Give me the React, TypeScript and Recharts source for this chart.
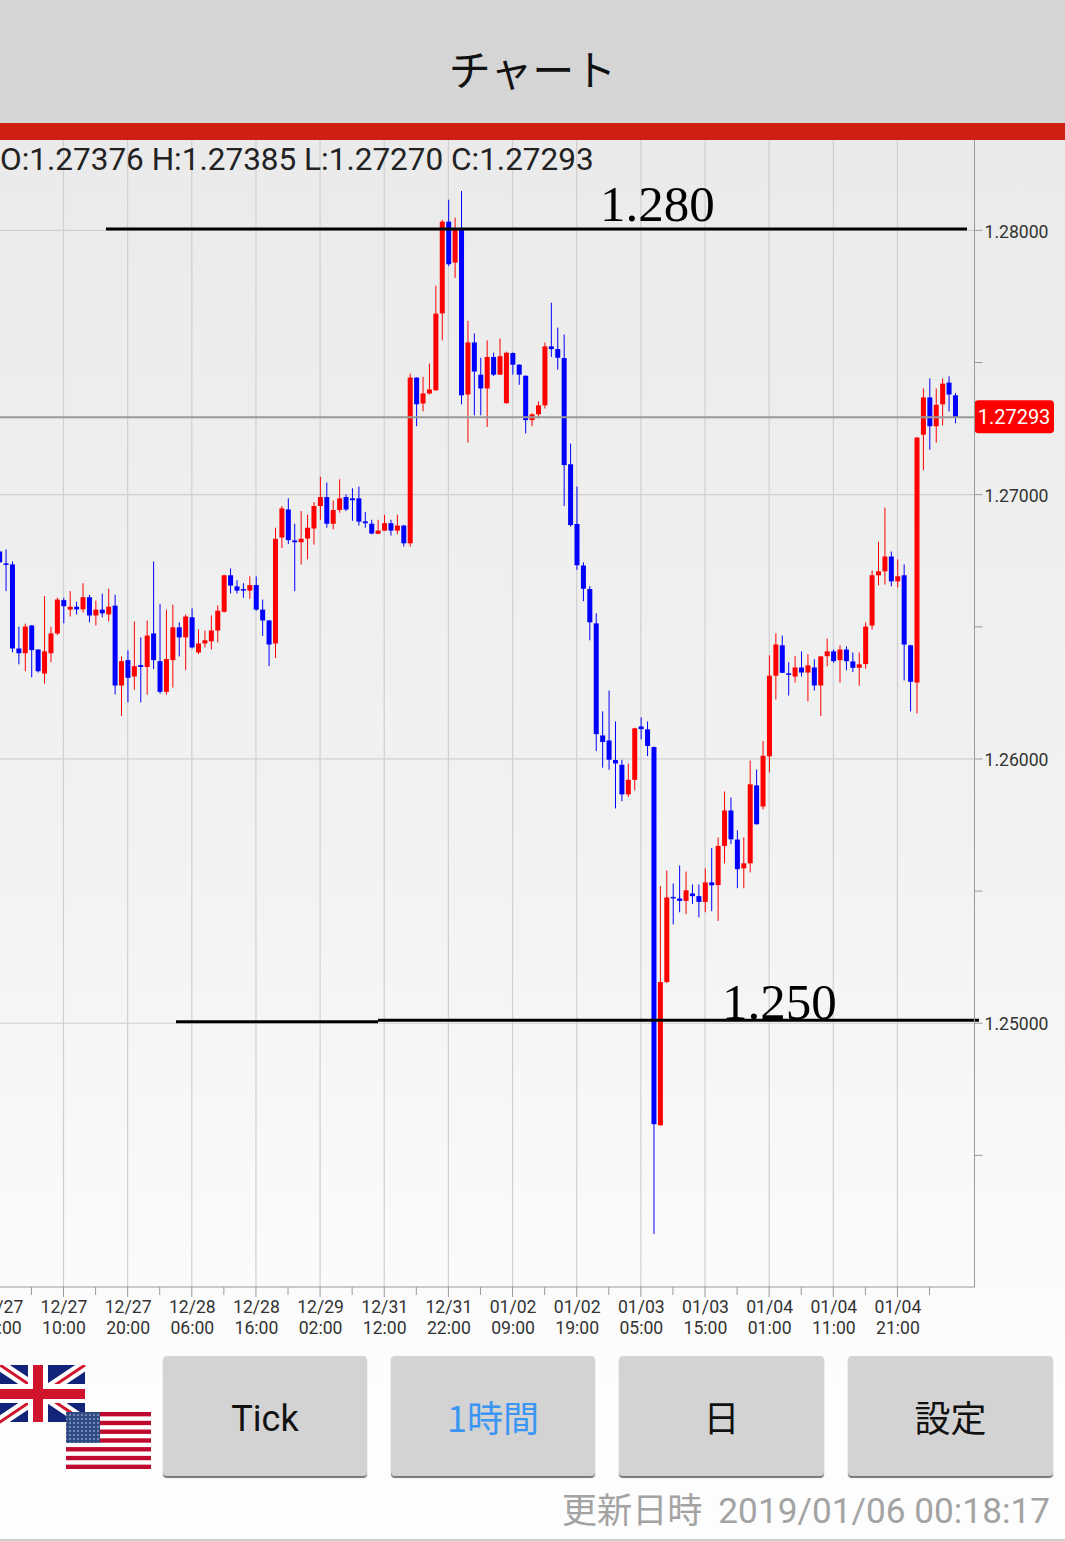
import { Bar, CartesianGrid, ComposedChart, Label, ReferenceLine, XAxis, YAxis } from 'recharts';

const opens = [
  1.26785, 1.2674, 1.26736, 1.26418, 1.264, 1.26505, 1.26414, 1.26323, 1.264, 1.26475,
  1.26601, 1.26565, 1.26576, 1.26566, 1.26612, 1.26543, 1.26565, 1.26547, 1.2658, 1.26278,
  1.26374, 1.26312, 1.26355, 1.26348, 1.26475, 1.2637, 1.26254, 1.26374, 1.26498, 1.2646,
  1.26536, 1.26403, 1.26437, 1.26445, 1.26486, 1.26557, 1.26695, 1.26653, 1.26643, 1.26637,
  1.26658, 1.26565, 1.26524, 1.26437, 1.26838, 1.26944, 1.26827, 1.2682, 1.26834, 1.26872,
  1.26957, 1.26991, 1.2689, 1.26942, 1.26991, 1.26986, 1.26986, 1.26899, 1.2689, 1.26852,
  1.26864, 1.26892, 1.26864, 1.26883, 1.26816, 1.27443, 1.27345, 1.27383, 1.27395, 1.27686,
  1.28033, 1.27878, 1.28001, 1.27379, 1.27576, 1.27454, 1.27402, 1.27521, 1.27454, 1.27346,
  1.27536, 1.27492, 1.2745, 1.27282, 1.27304, 1.27338, 1.27561, 1.27551, 1.27517, 1.27115,
  1.26889, 1.26732, 1.26643, 1.26513, 1.26089, 1.2607, 1.25996, 1.25978, 1.25866, 1.25921,
  1.26123, 1.26112, 1.26045, 1.24614, 1.25156, 1.25478, 1.25472, 1.25463, 1.25491, 1.25481,
  1.25459, 1.25533, 1.25523, 1.25671, 1.25805, 1.25695, 1.25586, 1.25605, 1.259, 1.2582,
  1.2601, 1.26315, 1.2643, 1.26324, 1.26312, 1.26346, 1.26327, 1.26346, 1.26278, 1.26389,
  1.26407, 1.26374, 1.26414, 1.26369, 1.26345, 1.26359, 1.26505, 1.26695, 1.2671, 1.26766,
  1.26672, 1.26695, 1.2643, 1.26289, 1.27227, 1.27368, 1.27259, 1.27342, 1.27424, 1.27376,
];
const closes = [
  1.26744, 1.26738, 1.26418, 1.264, 1.26501, 1.26412, 1.26332, 1.26407, 1.26475, 1.26603,
  1.26578, 1.26576, 1.26566, 1.26612, 1.26543, 1.26565, 1.26551, 1.26576, 1.26278, 1.2637,
  1.26307, 1.26351, 1.26348, 1.26467, 1.26374, 1.26254, 1.26378, 1.26498, 1.2646, 1.26539,
  1.26422, 1.26437, 1.26449, 1.26486, 1.26561, 1.26695, 1.26656, 1.26637, 1.26637, 1.26658,
  1.26565, 1.26524, 1.26433, 1.26833, 1.26948, 1.26828, 1.2682, 1.26833, 1.26875, 1.26957,
  1.26991, 1.2689, 1.26942, 1.26986, 1.26944, 1.26979, 1.26898, 1.26892, 1.26853, 1.26864,
  1.26892, 1.26864, 1.26883, 1.26816, 1.27443, 1.27342, 1.27383, 1.27398, 1.27685, 1.28033,
  1.27872, 1.28001, 1.27376, 1.27576, 1.27466, 1.27402, 1.27521, 1.27454, 1.27524, 1.27537,
  1.27492, 1.27454, 1.27282, 1.27304, 1.27338, 1.27561, 1.27551, 1.27518, 1.27112, 1.26885,
  1.26733, 1.26644, 1.26517, 1.26094, 1.26064, 1.25997, 1.25983, 1.25866, 1.25921, 1.26116,
  1.26113, 1.26049, 1.24618, 1.25156, 1.25476, 1.25473, 1.25463, 1.25503, 1.25481, 1.25459,
  1.25533, 1.25522, 1.25671, 1.25805, 1.25696, 1.25583, 1.25605, 1.25904, 1.25753, 1.26012,
  1.26315, 1.26433, 1.26326, 1.26319, 1.26346, 1.26327, 1.26354, 1.26278, 1.26388, 1.26407,
  1.2637, 1.26414, 1.2637, 1.26345, 1.26358, 1.26501, 1.26695, 1.2671, 1.26766, 1.26672,
  1.26691, 1.26433, 1.26292, 1.27216, 1.27368, 1.27259, 1.2734, 1.2742, 1.27379, 1.27293,
];
const highs = [
  1.26789, 1.26793, 1.26747, 1.26501, 1.26512, 1.26507, 1.26416, 1.26616, 1.265, 1.2661,
  1.2661, 1.26635, 1.26595, 1.26665, 1.26621, 1.26599, 1.26625, 1.26644, 1.26621, 1.26388,
  1.26411, 1.2652, 1.2646, 1.26524, 1.26747, 1.26587, 1.26565, 1.26584, 1.26517, 1.26547,
  1.2657, 1.2649, 1.26486, 1.26543, 1.26581, 1.26697, 1.26721, 1.26676, 1.26665, 1.26691,
  1.26691, 1.26603, 1.26526, 1.26875, 1.26957, 1.26986, 1.2689, 1.26938, 1.26924, 1.26972,
  1.27068, 1.27046, 1.26978, 1.27058, 1.27001, 1.27024, 1.27031, 1.26934, 1.26905, 1.26905,
  1.26924, 1.26905, 1.26924, 1.26886, 1.27458, 1.27444, 1.27446, 1.27496, 1.27791, 1.2804,
  1.28116, 1.28048, 1.28149, 1.27658, 1.2761, 1.27518, 1.27584, 1.27537, 1.27591, 1.27541,
  1.27538, 1.27493, 1.27451, 1.27308, 1.27353, 1.27576, 1.27726, 1.27632, 1.27606, 1.27193,
  1.27031, 1.26744, 1.26654, 1.26551, 1.2618, 1.26259, 1.26142, 1.25997, 1.25982, 1.26118,
  1.26157, 1.26142, 1.26047, 1.25519, 1.25578, 1.25529, 1.25597, 1.25574, 1.25525, 1.25525,
  1.25586, 1.25663, 1.25703, 1.25877, 1.25854, 1.2573, 1.25703, 1.25994, 1.2596, 1.26068,
  1.26392, 1.26475, 1.26467, 1.26366, 1.26389, 1.26407, 1.26396, 1.26377, 1.2639, 1.26456,
  1.26414, 1.2643, 1.26426, 1.26403, 1.26403, 1.26517, 1.26713, 1.26822, 1.26951, 1.26785,
  1.26755, 1.26736, 1.26432, 1.27218, 1.27402, 1.2744, 1.27402, 1.2744, 1.27448, 1.27385,
];
const lows = [
  1.2674, 1.26635, 1.26404, 1.26358, 1.26332, 1.26309, 1.26327, 1.26285, 1.26366, 1.26469,
  1.26513, 1.26539, 1.26546, 1.26554, 1.26517, 1.26505, 1.26536, 1.2652, 1.26244, 1.26162,
  1.26214, 1.26262, 1.26214, 1.26243, 1.2634, 1.26247, 1.26243, 1.2627, 1.26388, 1.26336,
  1.26418, 1.26397, 1.26422, 1.26414, 1.26441, 1.26554, 1.26626, 1.26626, 1.2661, 1.26606,
  1.26561, 1.26465, 1.26351, 1.26382, 1.26798, 1.26813, 1.26635, 1.26736, 1.26755, 1.26811,
  1.26905, 1.26875, 1.26869, 1.26932, 1.26938, 1.26901, 1.26883, 1.26875, 1.2685, 1.26851,
  1.26863, 1.26845, 1.2685, 1.26804, 1.26804, 1.27259, 1.27315, 1.27379, 1.27393, 1.27584,
  1.27865, 1.2782, 1.27342, 1.27197, 1.273, 1.273, 1.27256, 1.27449, 1.27453, 1.27345,
  1.27454, 1.27416, 1.27232, 1.27259, 1.27289, 1.27326, 1.27521, 1.27473, 1.26957, 1.26879,
  1.26715, 1.26597, 1.26449, 1.2603, 1.25967, 1.25959, 1.25813, 1.2584, 1.25856, 1.25881,
  1.26074, 1.26011, 1.24203, 1.24613, 1.25152, 1.25374, 1.2542, 1.25413, 1.25451, 1.25401,
  1.2542, 1.25424, 1.25387, 1.25605, 1.25678, 1.25511, 1.25511, 1.25571, 1.25752, 1.25809,
  1.25949, 1.26225, 1.26325, 1.2624, 1.26289, 1.26312, 1.26218, 1.26259, 1.26162, 1.26351,
  1.26364, 1.26289, 1.26336, 1.26329, 1.26277, 1.26341, 1.2649, 1.26657, 1.2666, 1.26653,
  1.26649, 1.26297, 1.2618, 1.26172, 1.27092, 1.2717, 1.27197, 1.27262, 1.27315, 1.2727,
];

const majorPrices = [1.25, 1.26, 1.27, 1.28];
const minorPrices = [1.245, 1.255, 1.265, 1.275];
const lastPrice = 1.27293;

const labelledCandles = [0, 10, 20, 30, 40, 50, 60, 70, 80, 90, 100, 110, 120, 130, 140];
const minorCandles = [5, 15, 25, 35, 45, 55, 65, 75, 85, 95, 105, 115, 125, 135, 145];
const tickDates = ['12/27', '12/27', '12/27', '12/28', '12/28', '12/29', '12/31', '12/31', '01/02', '01/02', '01/03', '01/03', '01/04', '01/04', '01/04'];
const tickTimes = ['00:00', '10:00', '20:00', '06:00', '16:00', '02:00', '12:00', '22:00', '09:00', '19:00', '05:00', '15:00', '01:00', '11:00', '21:00'];

const candles = opens.map((open, i) => ({ i, open, close: closes[i], high: highs[i], low: lows[i] }));

const UP = '#ff0000';
const DOWN = '#0000ff';
const GRID = '#d0d0d0';
const AXIS = '#9a9a9a';
const SANS = 'Roboto, sans-serif';
const CJK = '"Noto Sans CJK JP", sans-serif';

function Candle(props: any) {
  const { x, y, width, height, payload } = props;
  const cx = x + width / 2;
  const perPrice = height / (payload.high - payload.low);
  const top = y + (payload.high - Math.max(payload.open, payload.close)) * perPrice;
  const bottom = y + (payload.high - Math.min(payload.open, payload.close)) * perPrice;
  const color = payload.close >= payload.open ? UP : DOWN;
  return (
    <g>
      <line x1={cx} x2={cx} y1={y} y2={y + height} stroke={color} strokeWidth={1} />
      <rect x={x} y={top} width={width} height={Math.max(bottom - top, 1.5)} fill={color} />
    </g>
  );
}

function TimeTick(props: any) {
  const { x, y, payload } = props;
  const idx = labelledCandles.indexOf(payload.value);
  return (
    <g>
      <line x1={x} x2={x} y1={y} y2={y + (idx >= 0 ? 10 : 8)} stroke={AXIS} />
      {idx >= 0 && (
        <text x={x} textAnchor="middle" fontFamily={SANS} fontSize={17.6} fill="#333">
          <tspan x={x + 0.5} y={y + 26}>{tickDates[idx]}</tspan>
          <tspan x={x + 0.5} y={y + 47}>{tickTimes[idx]}</tspan>
        </text>
      )}
    </g>
  );
}

function PriceTag({ viewBox }: any) {
  const left = viewBox.x + viewBox.width;
  return (
    <g>
      <rect x={left} y={viewBox.y - 17} width={79.5} height={33} rx={4} fill="#ff0000" />
      <text x={left + 39.5} y={viewBox.y + 7} textAnchor="middle" fontFamily={SANS} fontSize={20} fill="#fff">
        {lastPrice.toFixed(5)}
      </text>
    </g>
  );
}

function Flags() {
  const stripes = [0, 1, 2, 3, 4, 5, 6];
  return (
    <svg width={151} height={104} style={{ position: 'absolute', left: 0, top: 1365 }}>
      <defs>
        <pattern id="stars" width={4} height={4} patternUnits="userSpaceOnUse">
          <rect width={4} height={4} fill="#2f4b86" />
          <circle cx={2} cy={2} r={0.8} fill="#c9d2e6" />
        </pattern>
      </defs>
      <rect x={0} y={0} width={85} height={57} fill="#12237a" />
      <line x1={-6} y1={-4} x2={85} y2={57} stroke="#fff" strokeWidth={11} />
      <line x1={85} y1={0} x2={-6} y2={61} stroke="#fff" strokeWidth={11} />
      <line x1={-6} y1={-4} x2={85} y2={57} stroke="#cf142b" strokeWidth={3} />
      <line x1={85} y1={0} x2={-6} y2={61} stroke="#cf142b" strokeWidth={3} />
      <rect x={28} y={0} width={20} height={57} fill="#fff" />
      <rect x={0} y={19} width={85} height={19} fill="#fff" />
      <rect x={33} y={0} width={10} height={57} fill="#cf142b" />
      <rect x={0} y={24} width={85} height={10} fill="#cf142b" />
      <rect x={66} y={47} width={85} height={57} fill="#fff" />
      {stripes.map((s) => (
        <rect key={s} x={66} y={47 + s * 8.77} width={85} height={4.38} fill="#bf0a30" />
      ))}
      <rect x={66} y={47} width={34} height={31} fill="url(#stars)" />
    </svg>
  );
}

const buttonBase = {
  position: 'absolute' as const,
  top: 1356,
  height: 120,
  background: '#d3d3d3',
  borderRadius: 4,
  boxShadow: '0 2px 1px #777',
  display: 'flex',
  alignItems: 'center',
  justifyContent: 'center',
  fontSize: 36,
  color: '#111',
};

export default function App() {
  return (
    <div
      style={{
        position: 'absolute',
        left: 0,
        top: 0,
        width: 1065,
        height: 1541,
        overflow: 'hidden',
        background: 'linear-gradient(#e9e9e9 0%, #f2f2f2 55%, #fdfdfd 90%)',
        fontFamily: SANS,
      }}
    >
      <div
        style={{
          position: 'absolute',
          left: 0,
          top: 0,
          width: 1065,
          height: 123,
          background: '#d5d5d5',
          textAlign: 'center',
          lineHeight: '136px',
          fontFamily: CJK,
          fontSize: 42,
          color: '#111',
        }}
      >
        チャート
      </div>
      <div style={{ position: 'absolute', left: 0, top: 123, width: 1065, height: 17, background: '#ce1f12' }} />

      <div style={{ position: 'absolute', left: -20, top: 140 }}>
        <ComposedChart
          width={1085}
          height={1205}
          data={candles}
          margin={{ top: 0, right: 0, bottom: 0, left: 0 }}
        >
          <CartesianGrid
            stroke={GRID}
            strokeWidth={1.2}
            horizontalValues={majorPrices}
            verticalValues={labelledCandles}
          />
          <XAxis
            dataKey="i"
            type="number"
            domain={[-3.016, 152.01]}
            allowDataOverflow
            ticks={[...labelledCandles, ...minorCandles].sort((a, b) => a - b)}
            interval={0}
            height={58}
            tickSize={0}
            tickMargin={0}
            tickLine={false}
            tick={<TimeTick />}
            stroke={AXIS}
          />
          <YAxis
            orientation="right"
            type="number"
            domain={[1.24002, 1.28342]}
            allowDataOverflow
            ticks={[...minorPrices, ...majorPrices].sort((a, b) => a - b)}
            interval={0}
            width={90.5}
            tickSize={8}
            tickMargin={2}
            tickFormatter={(v: number) => (majorPrices.includes(v) ? v.toFixed(5) : '')}
            tick={{ fill: '#333', fontSize: 17.6, fontFamily: SANS, dy: 1 }}
            stroke={AXIS}
          />
          <Bar
            dataKey={(d: any) => [d.low, d.high]}
            barSize={5}
            shape={<Candle />}
            isAnimationActive={false}
          />
          <ReferenceLine y={lastPrice} stroke="#999" strokeWidth={2}>
            <Label content={<PriceTag />} />
          </ReferenceLine>
          <ReferenceLine
            segment={[{ x: 16.62, y: 1.28005 }, { x: 150.84, y: 1.28005 }]}
            stroke="#000"
            strokeWidth={3}
            ifOverflow="visible"
          />
          <ReferenceLine
            segment={[{ x: 27.54, y: 1.25006 }, { x: 59.03, y: 1.25006 }]}
            stroke="#000"
            strokeWidth={3}
            ifOverflow="visible"
          />
          <ReferenceLine
            segment={[{ x: 59.03, y: 1.25011 }, { x: 152.71, y: 1.25011 }]}
            stroke="#000"
            strokeWidth={3}
            ifOverflow="visible"
          />
        </ComposedChart>
      </div>

      <div style={{ position: 'absolute', left: 0, top: 141, fontSize: 31.5, lineHeight: '38px', color: '#222', whiteSpace: 'nowrap' }}>
        O:1.27376 H:1.27385 L:1.27270 C:1.27293
      </div>
      <div style={{ position: 'absolute', left: 600, top: 176, fontFamily: '"Liberation Serif", serif', fontSize: 51, lineHeight: '56px', color: '#000' }}>
        1.280
      </div>
      <div style={{ position: 'absolute', left: 722, top: 974, fontFamily: '"Liberation Serif", serif', fontSize: 51, lineHeight: '56px', color: '#000' }}>
        1.250
      </div>

      <Flags />
      <div style={{ ...buttonBase, left: 163, width: 204, paddingTop: 5, height: 115 }}>Tick</div>
      <div style={{ ...buttonBase, left: 391, width: 204, color: '#3b96f3', fontFamily: CJK }}>1時間</div>
      <div style={{ ...buttonBase, left: 619, width: 205, fontFamily: CJK }}>日</div>
      <div style={{ ...buttonBase, left: 848, width: 205, fontFamily: CJK }}>設定</div>

      <div style={{ position: 'absolute', right: 15, top: 1486, fontFamily: CJK, fontSize: 35.2, lineHeight: '44px', color: '#a3a3a3', whiteSpace: 'pre' }}>
        更新日時  <span style={{ fontFamily: SANS }}>2019/01/06 00:18:17</span>
      </div>
      <div style={{ position: 'absolute', left: 0, top: 1539, width: 1065, height: 2, background: '#cfcfcf' }} />
    </div>
  );
}
